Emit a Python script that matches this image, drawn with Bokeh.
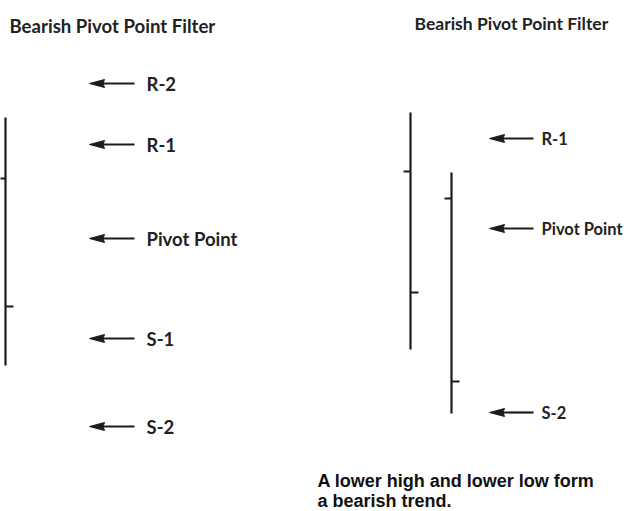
from bokeh.plotting import figure
from bokeh.layouts import row
from bokeh.models import Range1d, Label
from bokeh.core.properties import value
from bokeh.embed import file_html
from bokeh.resources import INLINE

# ---------------- data ----------------
title_text = "Bearish Pivot Point Filter"

left_level_names = ["R-2", "R-1", "Pivot Point", "S-1", "S-2"]
left_level_values = [122.0, 115.9, 106.5, 96.5, 87.7]
left_days = [1]
left_high = [118.6]
left_low = [93.8]
left_open = [112.5]
left_close = [99.7]

right_level_names = ["R-1", "Pivot Point", "S-2"]
right_level_values = [116.5, 107.5, 89.1]
right_days = [1, 2]
right_high = [119.1, 113.1]
right_low = [95.4, 89.0]
right_open = [113.2, 110.5]
right_close = [101.1, 92.2]

note_lines = ["A lower high and lower low form", "a bearish trend."]

# ---------------- layout constants ----------------
W, H = 312, 511
PX_PER_DAY = 41.0
PX_PER_UNIT = 10.0
Y_TOP = 130.3
Y_BOT = Y_TOP - H / PX_PER_UNIT
INK = "#1c1c1c"
TEXT = "#222222"
FONT = "Lato"


def make_panel(bar_px, days, high, low, opn, close, names, levels,
               arrow_tip_px, arrow_end_px, label_px, label_size,
               title_px, title_y, title_size):
    x0 = days[0] - bar_px / PX_PER_DAY
    p = figure(width=W, height=H, output_backend="svg", toolbar_location=None,
               x_range=Range1d(x0, x0 + W / PX_PER_DAY),
               y_range=Range1d(Y_BOT, Y_TOP),
               x_axis_location=None, y_axis_location=None, min_border=0)
    p.grid.visible = False
    p.outline_line_color = None
    p.background_fill_color = "white"
    p.border_fill_color = "white"

    def dx(px):
        return px / PX_PER_DAY

    def sx(px):
        return x0 + px / PX_PER_DAY

    # OHLC bars
    p.segment(x0=days, y0=low, x1=days, y1=high, line_color=INK, line_width=2.2)
    p.segment(x0=[d - dx(7) for d in days], y0=opn, x1=days, y1=opn,
              line_color=INK, line_width=2.2)
    p.segment(x0=days, y0=close, x1=[d + dx(8) for d in days], y1=close,
              line_color=INK, line_width=2.2)

    # arrows pointing left at each level
    tip = sx(arrow_tip_px)
    head_len = dx(15)
    half_w = 4.0 / PX_PER_UNIT
    p.segment(x0=[tip + head_len * 0.9] * len(levels), y0=levels,
              x1=[sx(arrow_end_px)] * len(levels), y1=levels,
              line_color=INK, line_width=2.2)
    p.patches(xs=[[tip, tip + head_len, tip + head_len * 0.9, tip + head_len] for _ in levels],
              ys=[[lv, lv + half_w, lv, lv - half_w] for lv in levels],
              fill_color=INK, line_color=INK, line_width=1)

    p.text(x=[sx(label_px)] * len(levels), y=levels, text=names,
           text_font=value(FONT), text_font_size=label_size, text_font_style="bold",
           text_color=TEXT, text_baseline="middle", text_align="left")

    p.add_layout(Label(x=title_px, y=H - title_y, x_units="screen", y_units="screen",
                       text=title_text, text_font=FONT, text_font_size=title_size,
                       text_font_style="bold",
                       text_color=TEXT, text_baseline="middle", text_align="left"))
    return p


left = make_panel(5, left_days, left_high, left_low, left_open, left_close,
                  left_level_names, left_level_values,
                  89, 134, 146, "18.5px", 9, 25, "18.6px")

right = make_panel(98, right_days, right_high, right_low, right_open, right_close,
                   right_level_names, right_level_values,
                   177, 221, 229, "16.5px", 102, 23, "17.5px")

for i, line in enumerate(note_lines):
    right.add_layout(Label(x=5, y=31 - 20 * i, x_units="screen", y_units="screen",
                           text=line, text_font="Liberation Sans", text_font_style="bold",
                           text_font_size="18px", text_color="#111111",
                           text_baseline="middle", text_align="left"))

layout = row(left, right, spacing=0)
open("out.html", "w").write(file_html(layout, INLINE))
